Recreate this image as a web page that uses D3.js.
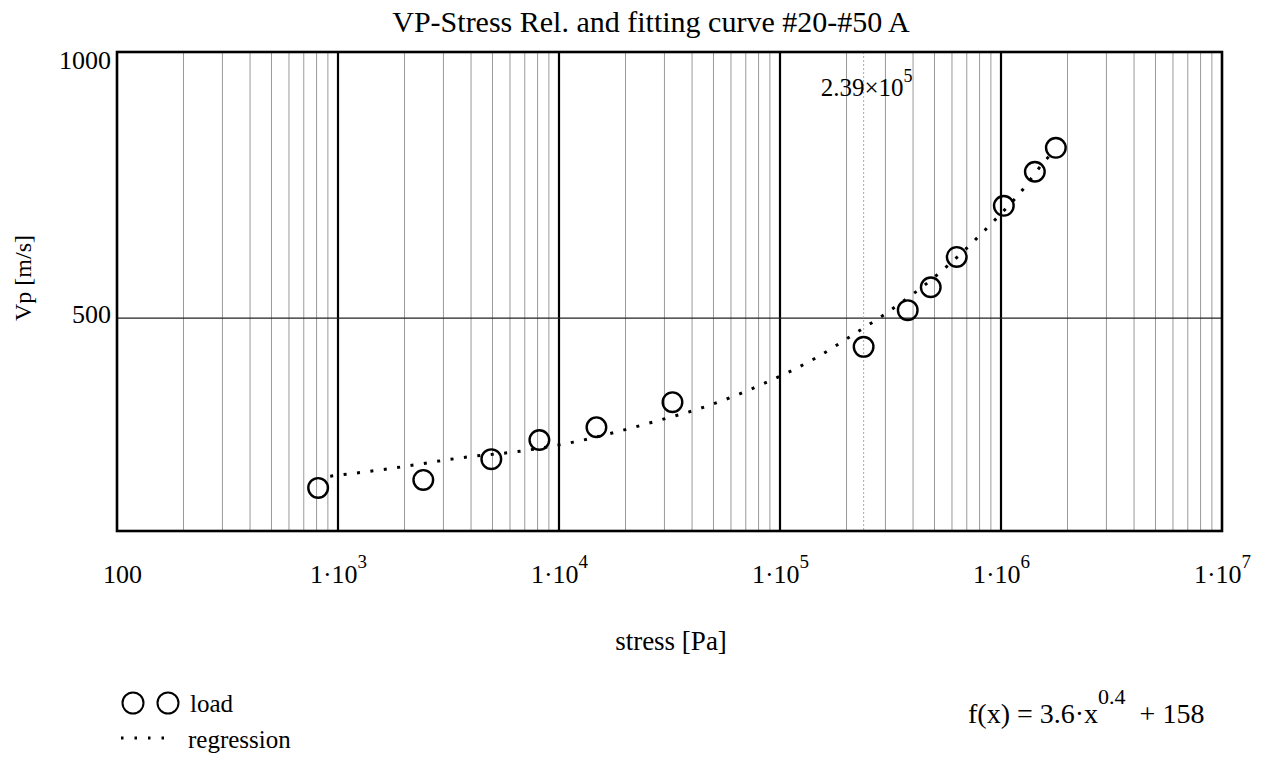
<!DOCTYPE html>
<html>
<head>
<meta charset="utf-8">
<script src="https://cdn.jsdelivr.net/npm/d3@7"></script>
<style>
  body { margin: 0; background: #fff; }
  svg { display: block; font-family: "Liberation Serif", "Times New Roman", serif; }
</style>
</head>
<body>
<div id="chart"></div>
<script>
// load points
var stressLoad = [813, 2432, 4940, 8150, 14770, 32620, 239000, 378400, 481000, 630500, 1030000, 1423000, 1771000]
var vpLoad = [181, 196, 235, 271, 295, 342, 446, 515, 558, 615, 711, 775, 820]

// regression curve, sampled along the dotted line
var stressReg = [922, 1636, 3847, 6688, 11620, 26760, 47000, 83410, 145000, 220000, 294500, 533800, 853500, 1269000, 1562000, 1750000]
var vpReg = [203, 216, 239, 250, 267, 305, 335, 376, 425, 472, 506, 587, 667, 744, 793, 815]

var xTicks = [100, 1e3, 1e4, 1e5, 1e6, 1e7]
var yTicks = [500, 1000]
var markerX = 2.39e5

var width = 1264, height = 759
var pLeft = 117, pRight = 1222, pTop = 52, pBottom = 531

var svg = d3.select('#chart').append('svg')
  .attr('width', width)
  .attr('height', height)

var x = d3.scaleLog().domain([100, 1e7]).range([pLeft, pRight])
var y = d3.scaleLinear().domain([100, 1000]).range([pBottom, pTop])

// minor grid (2..9 per decade)
var minor = []
for (var k = 2; k < 7; k++) {
  for (var m = 2; m < 10; m++) minor.push(m * Math.pow(10, k))
}
svg.append('g').selectAll('line').data(minor).enter().append('line')
  .attr('x1', function (d) { return x(d) }).attr('x2', function (d) { return x(d) })
  .attr('y1', pTop).attr('y2', pBottom)
  .attr('stroke', '#9a9a9a').attr('stroke-width', 1)

// decade lines
svg.append('g').selectAll('line').data(xTicks.slice(1, -1)).enter().append('line')
  .attr('x1', function (d) { return x(d) }).attr('x2', function (d) { return x(d) })
  .attr('y1', pTop).attr('y2', pBottom)
  .attr('stroke', '#000').attr('stroke-width', 2.2)

// horizontal grid at 500
svg.append('line')
  .attr('x1', pLeft).attr('x2', pRight)
  .attr('y1', y(500)).attr('y2', y(500))
  .attr('stroke', '#222').attr('stroke-width', 1.2)

// marker at 2.39e5
svg.append('line')
  .attr('x1', x(markerX)).attr('x2', x(markerX))
  .attr('y1', pTop).attr('y2', pBottom)
  .attr('stroke', '#aaa').attr('stroke-width', 1)
  .attr('stroke-dasharray', '2,2')

var marker = svg.append('text')
  .attr('x', x(markerX) - 43).attr('y', 96)
  .attr('font-size', 25)
marker.append('tspan').text('2.39\u00d710')
marker.append('tspan').attr('dy', -14).attr('font-size', 18).text('5')

// frame
svg.append('rect')
  .attr('x', pLeft).attr('y', pTop)
  .attr('width', pRight - pLeft).attr('height', pBottom - pTop)
  .attr('fill', 'none').attr('stroke', '#000').attr('stroke-width', 2.6)

// regression
var line = d3.line()
  .x(function (d) { return x(d[0]) })
  .y(function (d) { return y(d[1]) })
  .curve(d3.curveMonotoneX)
svg.append('path')
  .datum(d3.zip(stressReg, vpReg))
  .attr('d', line)
  .attr('fill', 'none')
  .attr('stroke', '#000')
  .attr('stroke-width', 3)
  .attr('stroke-dasharray', '3,10.5')

// load circles
svg.append('g').selectAll('circle').data(d3.zip(stressLoad, vpLoad)).enter().append('circle')
  .attr('cx', function (d) { return x(d[0]) })
  .attr('cy', function (d) { return y(d[1]) })
  .attr('r', 9.8)
  .attr('fill', 'none')
  .attr('stroke', '#000')
  .attr('stroke-width', 2.4)

// x axis labels
var xAxis = svg.append('g')
  .attr('transform', 'translate(0,' + pBottom + ')')
  .call(d3.axisBottom(x).tickValues(xTicks).tickSize(0).tickPadding(0).tickFormat(''))
xAxis.select('.domain').remove()
xAxis.selectAll('.tick text').each(function (d) {
  var t = d3.select(this)
    .attr('y', 52).attr('dy', 0)
    .attr('fill', '#000').attr('font-size', 26)
    .attr('font-family', '"Liberation Serif", serif')
  if (d === 100) {
    t.attr('x', 5).text('100')
  } else {
    t.append('tspan').text('1\u00b710')
    t.append('tspan').attr('dy', -15).attr('font-size', 19).text(Math.round(Math.log10(d)))
  }
})

// y axis labels
var yAxis = svg.append('g')
  .attr('transform', 'translate(' + pLeft + ',0)')
  .call(d3.axisLeft(y).tickValues(yTicks).tickSize(0).tickPadding(6).tickFormat(d3.format('d')))
yAxis.select('.domain').remove()
yAxis.selectAll('.tick text')
  .attr('fill', '#000').attr('font-size', 26)
  .attr('font-family', '"Liberation Serif", serif')
  .attr('dy', function (d) { return d === 1000 ? '0.62em' : '0.15em' })

// title and axis titles
svg.append('text')
  .attr('x', 651).attr('y', 32)
  .attr('text-anchor', 'middle').attr('font-size', 30)
  .text('VP-Stress Rel. and fitting curve #20-#50 A')

svg.append('text')
  .attr('x', 671).attr('y', 650)
  .attr('text-anchor', 'middle').attr('font-size', 27)
  .text('stress [Pa]')

svg.append('text')
  .attr('transform', 'translate(31,278) rotate(-90)')
  .attr('text-anchor', 'middle').attr('font-size', 24)
  .text('Vp [m/s]')

// legend
var legend = svg.append('g')
legend.selectAll('circle').data([133, 168]).enter().append('circle')
  .attr('cx', function (d) { return d }).attr('cy', 703)
  .attr('r', 10.5)
  .attr('fill', 'none').attr('stroke', '#000').attr('stroke-width', 2)
legend.append('text').attr('x', 190).attr('y', 712).attr('font-size', 25).text('load')
legend.append('line')
  .attr('x1', 121).attr('x2', 165).attr('y1', 738).attr('y2', 738)
  .attr('stroke', '#000').attr('stroke-width', 3)
  .attr('stroke-dasharray', '2.5,11')
legend.append('text').attr('x', 188).attr('y', 748).attr('font-size', 25).text('regression')

// fit formula
var fx = svg.append('text').attr('x', 968).attr('y', 723).attr('font-size', 28)
fx.append('tspan').text('f(x) = 3.6\u00b7x')
fx.append('tspan').attr('dy', -19).attr('font-size', 22).text('0.4')
fx.append('tspan').attr('dy', 19).attr('font-size', 28).text('\u00a0 + 158')
</script>
</body>
</html>
